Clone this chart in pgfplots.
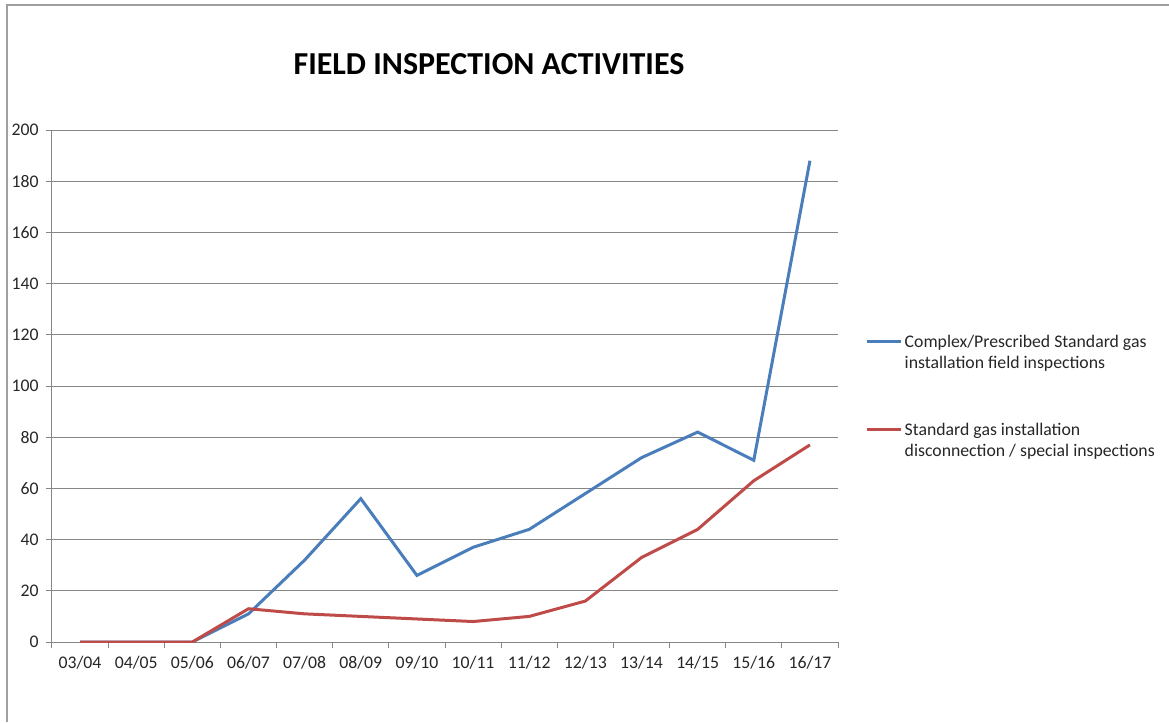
\documentclass[border=0pt]{standalone}
\usepackage{pgfplots}
\pgfplotsset{compat=1.18}
\usepackage{fontspec}
\setmainfont{Carlito}
\definecolor{sblue}{HTML}{4A7EBB}
\definecolor{sred}{HTML}{BE4B48}
\definecolor{gridc}{HTML}{868686}
\begin{document}
\begin{tikzpicture}
\useasboundingbox (0,0) rectangle (876.75pt,-541.5pt);
\draw[line width=1.5pt, color=gray!75] (5.25pt,-541.5pt) -- (5.25pt,-3.75pt) -- (876.75pt,-3.75pt);
\node[font=\fontsize{24}{28}\selectfont\bfseries] at (366.75pt,-48pt) {FIELD INSPECTION ACTIVITIES};
\begin{axis}[
  at={(39pt,-481.5pt)}, anchor=south west,
  scale only axis, width=589.5pt, height=384pt,
  xmin=-0.5, xmax=13.5, ymin=0, ymax=200,
  ytick={0,20,...,200},
  xtick={0,...,13},
  xticklabels={03/04,04/05,05/06,06/07,07/08,08/09,09/10,10/11,11/12,12/13,13/14,14/15,15/16,16/17},
  minor xtick={-0.5,0.5,...,13.5},
  axis x line*=bottom, axis y line*=left,
  axis line style={gridc, line width=0.75pt, -},
  ymajorgrids, grid style={gridc, line width=0.75pt},
  tick align=outside,
  major tick length=4.5pt, minor tick length=4.5pt,
  x tick style={draw=none},
  minor x tick style={draw=gridc, line width=0.75pt},
  y tick style={gridc, line width=0.75pt},
  tick label style={font=\fontsize{13.3}{16}\selectfont, text=black!85},
  /pgf/number format/assume math mode=true,
  yticklabel style={xshift=-2pt},
  xticklabel style={yshift=-2.5pt},
  legend style={at={(rel axis cs:1.029,0.501)}, anchor=west, draw=none, fill=none,
    font=\fontsize{13.3}{15.75}\selectfont, row sep=49.5pt, text=black!85},
  legend cell align=left,
  legend style={cells={anchor=base west}},
  legend image code/.code={\draw[#1, line width=2.25pt] (0pt,4.5pt) -- (25.5pt,4.5pt);},
]
\addplot[sblue, line width=2.25pt] coordinates {
(0,0) (1,0) (2,0) (3,11) (4,32) (5,56) (6,26) (7,37) (8,44) (9,58) (10,72) (11,82) (12,71) (13,188)};
\addlegendentry{\begin{tabular}[t]{@{}l@{}}Complex/Prescribed Standard gas\\installation field inspections\end{tabular}}
\addplot[sred, line width=2.25pt] coordinates {
(0,0) (1,0) (2,0) (3,13) (4,11) (5,10) (6,9) (7,8) (8,10) (9,16) (10,33) (11,44) (12,63) (13,77)};
\addlegendentry{\begin{tabular}[t]{@{}l@{}}Standard gas installation\\disconnection / special inspections\end{tabular}}
\end{axis}
\end{tikzpicture}
\end{document}
